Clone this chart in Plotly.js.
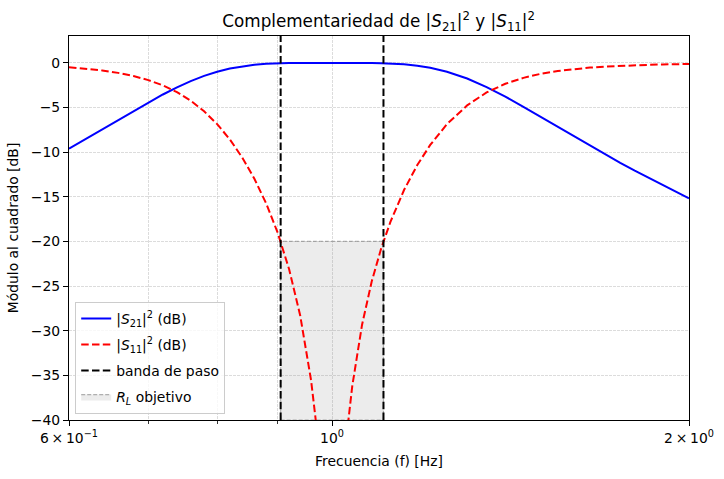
<!DOCTYPE html>
<html>
<head>
<meta charset="utf-8">
<script src="https://cdn.plot.ly/plotly-3.0.1.min.js"></script>
<style>
  html, body { margin: 0; padding: 0; background: #ffffff; }
  #chart { width: 724px; height: 479px; }
</style>
</head>
<body>
<div id="chart"></div>
<script>
// Frequency samples (Hz, log axis)
const freq = [0.60, 0.62, 0.64, 0.66, 0.68, 0.70, 0.72, 0.74, 0.76, 0.78,
              0.80, 0.82, 0.84, 0.86, 0.88, 0.90, 0.92, 0.94, 0.96, 0.97,
              0.98, 1.02, 1.03, 1.04, 1.06, 1.08, 1.10, 1.12, 1.15, 1.18,
              1.21, 1.25, 1.30, 1.35, 1.40, 1.45, 1.50, 1.55, 1.60, 1.65,
              1.70, 1.75, 1.80, 1.85, 1.90, 1.95, 2.00];

// |S21|^2 in dB
const s21dB = [-9.62, -8.53, -7.46, -6.41, -5.40, -4.44, -3.55, -2.75, -2.05, -1.47,
               -1.00, -0.65, -0.40, -0.22, -0.12, -0.05, -0.02, -0.01, 0.00, 0.00,
               0.00, 0.00, 0.00, 0.00, -0.01, -0.02, -0.04, -0.07, -0.17, -0.32,
               -0.56, -1.00, -1.76, -2.72, -3.79, -4.93, -6.07, -7.19, -8.26, -9.29,
               -10.27, -11.20, -12.08, -12.91, -13.71, -14.46, -15.18];

// |S11|^2 in dB
const s11dB = [-0.50, -0.66, -0.86, -1.13, -1.48, -1.94, -2.53, -3.29, -4.25, -5.43,
               -6.87, -8.58, -10.61, -12.98, -15.76, -19.07, -23.12, -28.29, -35.52, -40.61,
               -47.7, -48.1, -41.13, -36.21, -29.33, -24.50, -20.80, -17.82, -14.25, -11.45,
               -9.20, -6.87, -4.77, -3.32, -2.35, -1.69, -1.23, -0.92, -0.70, -0.54,
               -0.43, -0.34, -0.28, -0.23, -0.19, -0.16, -0.13];

// Passband edges and return-loss target
const bandEdges = [0.905, 1.105];
const rlTarget = -20;

// Axis limits
const xRange = [0.6, 2.0];
const yRange = [-40, 3];

// x tick labels
const xMajorVals = [0.6, 1, 2];
const xMajorText = ['6\u2009×\u200910<sup>−1</sup>', '10<sup>0</sup>', '2\u2009×\u200910<sup>0</sup>'];
const xMinorVals = [0.7, 0.8, 0.9];
const yTickVals = [-40, -35, -30, -25, -20, -15, -10, -5, 0];

const font = 'DejaVu Sans, sans-serif';
const fs = 13.9;

const traces = [
  {
    // R_L target region inside the passband
    x: [bandEdges[0], bandEdges[1], bandEdges[1], bandEdges[0], bandEdges[0]],
    y: [yRange[0], yRange[0], rlTarget, rlTarget, yRange[0]],
    mode: 'lines',
    fill: 'toself',
    fillcolor: 'rgba(128,128,128,0.15)',
    line: { color: 'rgba(128,128,128,0.6)', width: 1.2, dash: '4px,2px' },
    name: '<i>R<sub>L</sub></i> objetivo',
    legendrank: 4,
    legendgroup: 'g4',
    hoverinfo: 'skip'
  },
  {
    x: freq, y: s21dB,
    mode: 'lines',
    line: { color: '#0000ff', width: 2 },
    name: '|<i>S</i><sub>21</sub>|<sup>2</sup> (dB)',
    legendrank: 1,
    legendgroup: 'g1'
  },
  {
    x: freq, y: s11dB,
    mode: 'lines',
    line: { color: '#ff0000', width: 2, dash: '7.5px,3.3px' },
    name: '|<i>S</i><sub>11</sub>|<sup>2</sup> (dB)',
    legendrank: 2,
    legendgroup: 'g2'
  },
  {
    x: [bandEdges[0], bandEdges[0], null, bandEdges[1], bandEdges[1]],
    y: [yRange[0], yRange[1], null, yRange[0], yRange[1]],
    mode: 'lines',
    line: { color: '#000000', width: 2, dash: '7.5px,3.3px' },
    name: 'banda de paso',
    legendrank: 3,
    legendgroup: 'g3',
    connectgaps: false
  }
];

const gridStyle = { gridcolor: '#c4c4c4', gridwidth: 0.6, griddash: '2.5px,1.5px' };

const layout = {
  width: 724,
  height: 479,
  paper_bgcolor: '#ffffff',
  plot_bgcolor: '#ffffff',
  margin: { l: 69, r: 35, t: 36, b: 59 },
  font: { family: font, size: fs, color: '#000000' },
  title: {
    text: 'Complementariedad de |<i>S</i><sub>21</sub>|<sup>2</sup> y |<i>S</i><sub>11</sub>|<sup>2</sup>',
    font: { family: font, size: 16.8, color: '#000000' },
    x: 0.523, xanchor: 'center',
    y: 0.955, yanchor: 'middle'
  },
  xaxis: {
    type: 'log',
    range: [Math.log10(xRange[0]), Math.log10(xRange[1])],
    tickmode: 'array',
    tickvals: xMajorVals,
    ticktext: xMajorText,
    ticks: 'outside', ticklen: 5, tickwidth: 1, tickcolor: '#000',
    showline: true, linecolor: '#000', linewidth: 1.1, mirror: true,
    showgrid: true, ...gridStyle,
    zeroline: false,
    minor: {
      tickmode: 'array', tickvals: xMinorVals,
      ticks: 'outside', ticklen: 3, tickwidth: 0.8, tickcolor: '#000',
      showgrid: true, ...gridStyle
    },
    title: { text: 'Frecuencia (f) [Hz]', font: { family: font, size: fs }, standoff: 11 },
    tickfont: { family: font, size: fs }
  },
  yaxis: {
    range: yRange,
    tickmode: 'array',
    tickvals: yTickVals,
    ticks: 'outside', ticklen: 5, tickwidth: 1, tickcolor: '#000',
    showline: true, linecolor: '#000', linewidth: 1.1, mirror: true,
    showgrid: true, ...gridStyle,
    zeroline: false,
    title: { text: 'Módulo al cuadrado [dB]', font: { family: font, size: fs }, standoff: 8 },
    tickfont: { family: font, size: fs }
  },
  legend: {
    x: 0.01, y: 0.016, xanchor: 'left', yanchor: 'bottom',
    bgcolor: 'rgba(255,255,255,0.8)',
    bordercolor: '#cccccc', borderwidth: 1,
    font: { family: font, size: fs },
    tracegroupgap: 5,
    itemwidth: 30
  },
  showlegend: true
};

Plotly.newPlot('chart', traces, layout, { displayModeBar: false, staticPlot: true });
</script>
</body>
</html>
